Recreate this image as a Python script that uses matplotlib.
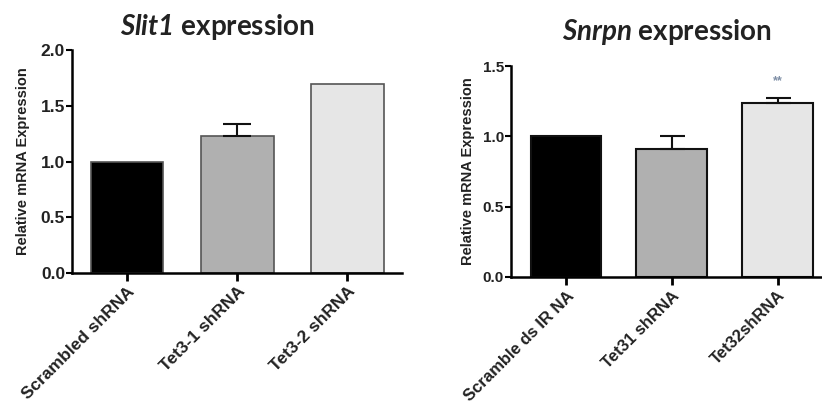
import matplotlib
matplotlib.use("Agg")
import matplotlib.pyplot as plt

plt.rcParams['font.family'] = ['Liberation Sans', 'DejaVu Sans']
plt.rcParams['mathtext.fontset'] = 'custom'
plt.rcParams['mathtext.bfit'] = 'Lato:italic:bold'

# Slit1 panel
slit_labels = ["Scrambled shRNA", "Tet3-1 shRNA", "Tet3-2 shRNA"]
slit_values = [1.0, 1.23, 1.70]
slit_err = [0.0, 0.11, 0.0]
slit_yticks = [0.0, 0.5, 1.0, 1.5, 2.0]

# Snrpn panel
snrpn_labels = ["Scramble ds IR NA", "Tet31 shRNA", "Tet32shRNA"]
snrpn_values = [1.0, 0.91, 1.235]
snrpn_err = [0.0, 0.095, 0.04]
snrpn_yticks = [0.0, 0.5, 1.0, 1.5]
snrpn_sig = "**"

fills = ["#000000", "#b0b0b0", "#e6e6e6"]

fig = plt.figure(figsize=(8.22, 4.03), dpi=100)
ax1 = fig.add_axes([0.0876, 0.3226, 0.402, 0.553])
ax2 = fig.add_axes([0.6217, 0.3127, 0.3783, 0.5235])


def style_axes(ax, yticks, ylim, xlim, labels, label_size, tick_size, lpad):
    for s in ["top", "right"]:
        ax.spines[s].set_visible(False)
    for s in ["left", "bottom"]:
        ax.spines[s].set_linewidth(1.8)
    ax.set_ylim(*ylim)
    ax.set_xlim(*xlim)
    ax.set_yticks(yticks)
    ax.set_yticklabels([f"{t:.1f}" for t in yticks], fontsize=tick_size,
                       fontweight='bold', color='#222222')
    ax.tick_params(axis='y', length=4, width=1.5, pad=1)
    ax.tick_params(axis='x', length=6, width=2, pad=2)
    ax.set_xticks(range(len(labels)))
    ax.set_xticklabels(labels, rotation=45, ha='right', rotation_mode='anchor',
                       fontsize=label_size, fontweight='bold', color='#222222')
    ax.set_ylabel("Relative mRNA Expression", fontsize=10.5, fontweight='bold',
                  color='#222222', labelpad=lpad)


x = range(len(slit_labels))
ax1.bar(x, slit_values, width=0.66, color=fills, edgecolor='#555555',
        linewidth=1.2, zorder=2)
for i, (v, e) in enumerate(zip(slit_values, slit_err)):
    if e > 0:
        ax1.errorbar(i, v, yerr=[[0], [e]], fmt='none', ecolor='#111111',
                     elinewidth=1.5, capsize=10, capthick=1.5, zorder=3)
style_axes(ax1, slit_yticks, (0, 2.0), (-0.5, 2.5), slit_labels, 12.5, 12.5, 8)
ax1.set_title(r"$\bfit{Slit1}$ expression", fontsize=20, fontweight='bold',
              family='Lato', color='#222222', pad=11, x=0.44)

x = range(len(snrpn_labels))
ax2.bar(x, snrpn_values, width=0.67, color=fills, edgecolor='#111111',
        linewidth=1.5, zorder=2)
for i, (v, e) in enumerate(zip(snrpn_values, snrpn_err)):
    if e > 0:
        ax2.errorbar(i, v, yerr=[[0], [e]], fmt='none', ecolor='#111111',
                     elinewidth=1.5, capsize=9, capthick=1.5, zorder=3)
ax2.text(2, snrpn_values[2] + snrpn_err[2] + 0.12, snrpn_sig, ha='center',
         va='center', fontsize=9, fontweight='bold', color='#7f8fa6')
style_axes(ax2, snrpn_yticks, (0, 1.5), (-0.52, 2.42), snrpn_labels, 12, 11, 6)
ax2.set_title(r"$\bfit{Snrpn}$ expression", fontsize=20, fontweight='bold',
              family='Lato', color='#222222', pad=19)

fig.savefig("out.png", dpi=100)
